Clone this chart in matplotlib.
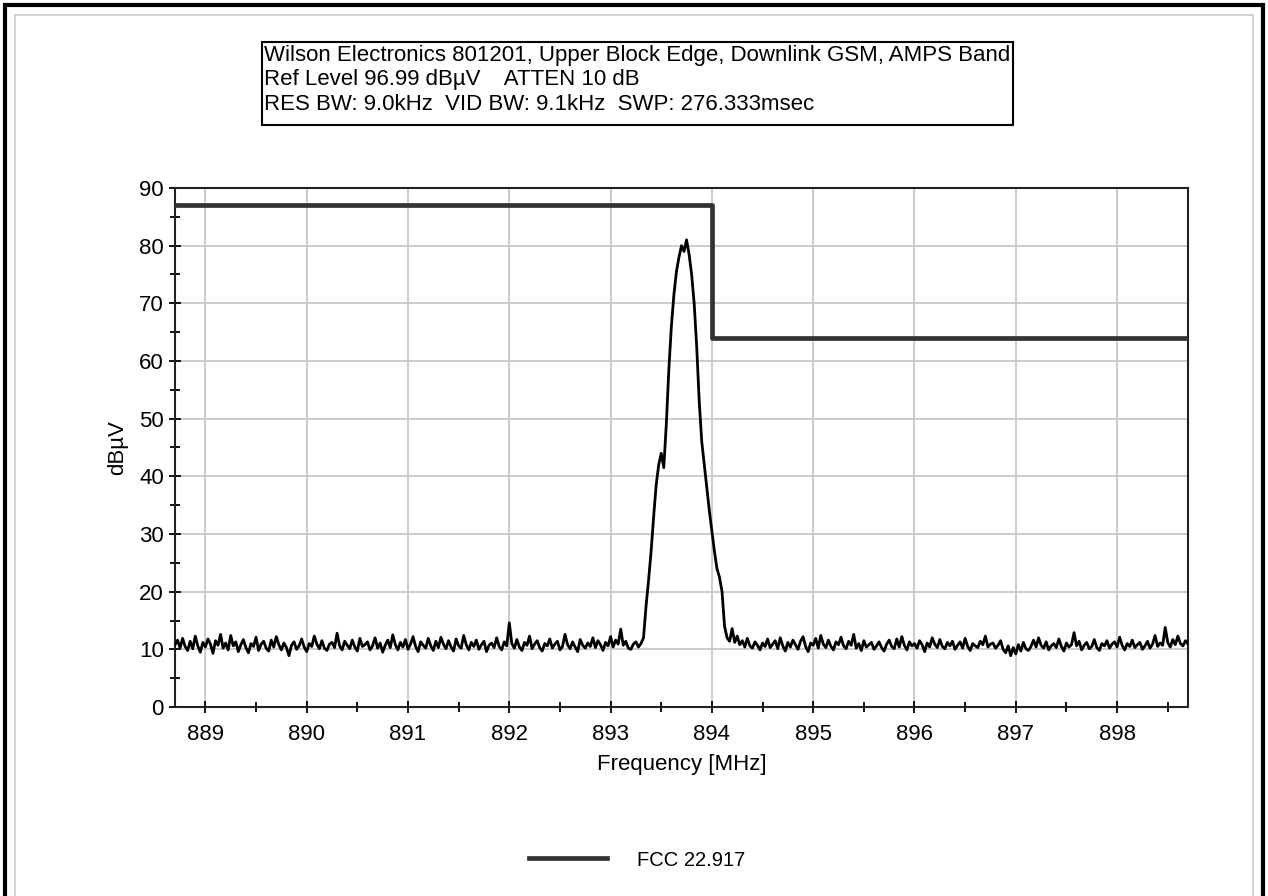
import numpy as np
import matplotlib
matplotlib.use("Agg")
import matplotlib.pyplot as plt
from matplotlib.patches import Rectangle
from matplotlib.lines import Line2D

plt.rcParams['font.family'] = ['Liberation Sans', 'DejaVu Sans']

# sweep span (MHz)
f_start = 888.7
f_stop = 898.7

noise_low = [
    10.8, 11.6, 10.2, 11.9, 10.5, 9.8, 11.4, 10.1, 12.3, 10.6, 9.5, 11.2, 10.4, 11.8, 10.9,
    9.3, 11.5, 10.7, 12.6, 10.2, 11.1, 9.9, 12.4, 10.6, 11.3, 9.6, 10.8, 11.7, 10.3, 9.4,
    11.0, 10.5, 12.1, 9.8, 10.9, 11.4, 10.2, 9.7, 11.6, 10.4, 12.2, 10.8, 9.9, 11.1, 10.3,
    8.9, 10.7, 11.3, 10.0, 10.6, 11.8, 10.4, 9.6, 11.0, 10.5, 12.3, 10.9, 10.1, 11.5, 10.2,
    9.8, 10.9, 11.2, 10.3, 12.8, 10.6, 9.9, 11.4, 10.7, 10.1, 11.6, 10.4, 9.7, 11.9, 10.5,
    10.8, 11.3, 9.9, 10.6, 12.0, 10.2, 11.1, 9.5, 10.7, 11.6, 10.3, 12.5, 10.8, 9.9, 11.2,
    10.4, 11.7, 10.0, 10.9, 12.2, 10.5, 9.6, 11.3, 10.7, 10.2, 11.9, 10.6, 9.8, 11.4, 10.3,
    12.1, 10.9, 10.1, 11.5, 10.4, 9.7, 11.8, 10.6, 10.2, 12.4, 10.8, 9.9, 11.2, 10.5, 11.6,
    10.0, 10.8, 11.4, 9.6, 10.7, 11.1, 10.3, 12.0, 10.5, 9.9, 11.3, 10.6, 14.6, 11.0, 10.2,
    11.7, 10.4, 9.8, 11.2, 10.7, 12.3, 10.1, 10.9, 11.5, 10.3, 9.7, 11.0, 10.6, 11.8, 10.2,
    10.9, 11.4, 9.9, 10.5, 12.6, 10.8, 10.1, 11.3, 10.4, 9.6, 11.7, 10.7, 10.2, 11.1, 10.5,
    12.0, 10.3, 11.5, 10.8, 9.8, 11.2, 10.6, 12.2, 10.4, 11.6, 10.9, 13.5, 10.7, 11.4, 10.2,
    10.0, 10.9, 11.3, 10.4, 11.0,
]
peak = [
    12.0, 17.5, 22.0, 27.0, 33.0, 38.5, 42.0, 44.0, 41.5, 49.0, 58.5, 66.0, 71.5, 75.5,
    78.0, 80.0, 79.0, 81.0, 78.5, 75.0, 70.0, 62.5, 53.0, 46.0, 42.0, 38.0, 34.0, 30.5,
    27.0, 24.0, 22.5, 20.0, 14.0, 12.0,
]
noise_high = [
    11.4, 13.6, 11.2, 12.3, 10.8, 11.5, 10.4, 11.9, 10.6, 10.2, 11.3, 10.7, 9.9, 11.1, 10.5,
    11.8, 10.3, 10.9, 11.5, 10.1, 12.0, 10.6, 9.7, 11.2, 10.4, 11.6, 10.8, 10.0, 11.4, 12.2,
    10.5, 9.6, 11.1, 10.7, 11.9, 10.2, 12.4, 10.9, 10.3, 11.6, 10.5, 9.9, 11.3, 10.8, 12.1,
    10.6, 10.1, 11.4, 10.7, 12.6, 10.2, 11.0, 9.8, 11.5, 10.4, 10.8, 11.2, 10.0, 10.6, 11.3,
    10.3, 9.7, 10.9, 11.6, 10.5, 10.1, 11.8, 10.4, 12.2, 10.7, 9.9, 11.3, 10.6, 11.0, 10.2,
    11.5, 10.8, 9.6, 11.1, 10.4, 12.0, 10.9, 10.3, 11.7, 10.5, 10.1, 11.2, 10.6, 11.4, 10.0,
    10.7, 11.3, 10.2, 11.9, 10.5, 9.8, 11.0, 10.6, 10.3, 11.4, 10.8, 12.3, 10.4, 10.9, 11.1,
    10.2, 10.7, 11.5, 10.0, 9.4, 10.6, 8.9, 10.3, 9.2, 10.8, 9.7, 11.2, 10.1, 9.8, 10.5,
    11.6, 10.4, 12.0, 10.7, 10.2, 11.3, 9.9, 10.6, 11.0, 10.3, 11.8, 10.5, 9.7, 11.1, 10.4,
    10.8, 12.9, 10.6, 11.4, 9.9, 10.7, 11.2, 10.1, 10.5, 11.7, 10.3, 9.8, 11.0, 10.6, 11.5,
    10.2, 10.9, 11.3, 10.4, 12.1, 10.7, 9.9, 11.0, 10.5, 11.6, 10.3, 10.8, 11.2, 10.0, 10.6,
    11.4, 10.2, 10.9, 12.4, 10.5, 11.1, 10.7, 13.8, 11.2, 10.4, 11.7, 10.8, 12.3, 11.0, 10.6,
    11.5, 10.9,
]

# FCC 22.917 limit line
limit_freq = [888.7, 894.0, 894.0, 898.7]
limit_level = [87, 87, 64, 64]

title_lines = [
    "Wilson Electronics 801201, Upper Block Edge, Downlink GSM, AMPS Band",
    "Ref Level 96.99 dB\u00b5V    ATTEN 10 dB",
    "RES BW: 9.0kHz  VID BW: 9.1kHz  SWP: 276.333msec",
]

level = np.array(noise_low + peak + noise_high)
freq = np.linspace(f_start, f_stop, len(level))

W, H = 1268, 896
fig = plt.figure(figsize=(W / 100, H / 100), dpi=100)
ax = fig.add_axes([175 / W, 1 - 707 / H, (1188 - 175) / W, (707 - 188) / H])

ax.plot(freq, level, color='black', lw=2.0, zorder=3)
ax.plot(limit_freq, limit_level, color='#333333', lw=3.4, zorder=4)

ax.set_xlim(f_start, f_stop)
ax.set_ylim(0, 90)
ax.set_xticks(np.arange(889, 899, 1))
ax.set_xticks(np.arange(889.5, 899, 1), minor=True)
ax.set_yticks(np.arange(0, 91, 10))
ax.set_yticks(np.arange(5, 90, 10), minor=True)
ax.grid(True, which='major', color='#c8c8c8', lw=1.3)
ax.set_axisbelow(True)
ax.tick_params(which='both', direction='inout', labelsize=16, color='black', width=1.3)
ax.tick_params(which='major', length=8)
ax.tick_params(which='minor', length=7)
ax.tick_params(axis='x', pad=8)
ax.tick_params(axis='y', pad=4)
for s in ax.spines.values():
    s.set_linewidth(1.5)
    s.set_color('#222222')

ax.set_xlabel("Frequency [MHz]", fontsize=16, labelpad=7)
ax.set_ylabel("dB\u00b5V", fontsize=16, labelpad=8)

# header box
fig.add_artist(Rectangle((262 / W, 1 - 125 / H), (1013 - 262) / W, (125 - 42) / H,
                         transform=fig.transFigure, fill=False, ec='black', lw=1.5))
for k, line in enumerate(title_lines):
    fig.text(264 / W, 1 - (56 + 24 * k) / H, line, fontsize=16, va='center', ha='left')

# legend
handle = Line2D([], [], color='#333333', lw=3.4)
fig.legend([handle], ["FCC 22.917"], loc='center', bbox_to_anchor=(637 / W, 1 - 860 / H),
           frameon=False, fontsize=14.5, handlelength=3.9, handletextpad=1.5)

# outer frame
fig.add_artist(Rectangle((15 / W, -0.01), (W - 30) / W, 1 - 15 / H + 0.01,
                         transform=fig.transFigure, fill=False, ec='#cccccc', lw=1.2))
fig.add_artist(Rectangle((5 / W, -0.01), (W - 10) / W, 1 - 5 / H + 0.01,
                         transform=fig.transFigure, fill=False, ec='black', lw=3))

fig.savefig("out.png", dpi=100)
